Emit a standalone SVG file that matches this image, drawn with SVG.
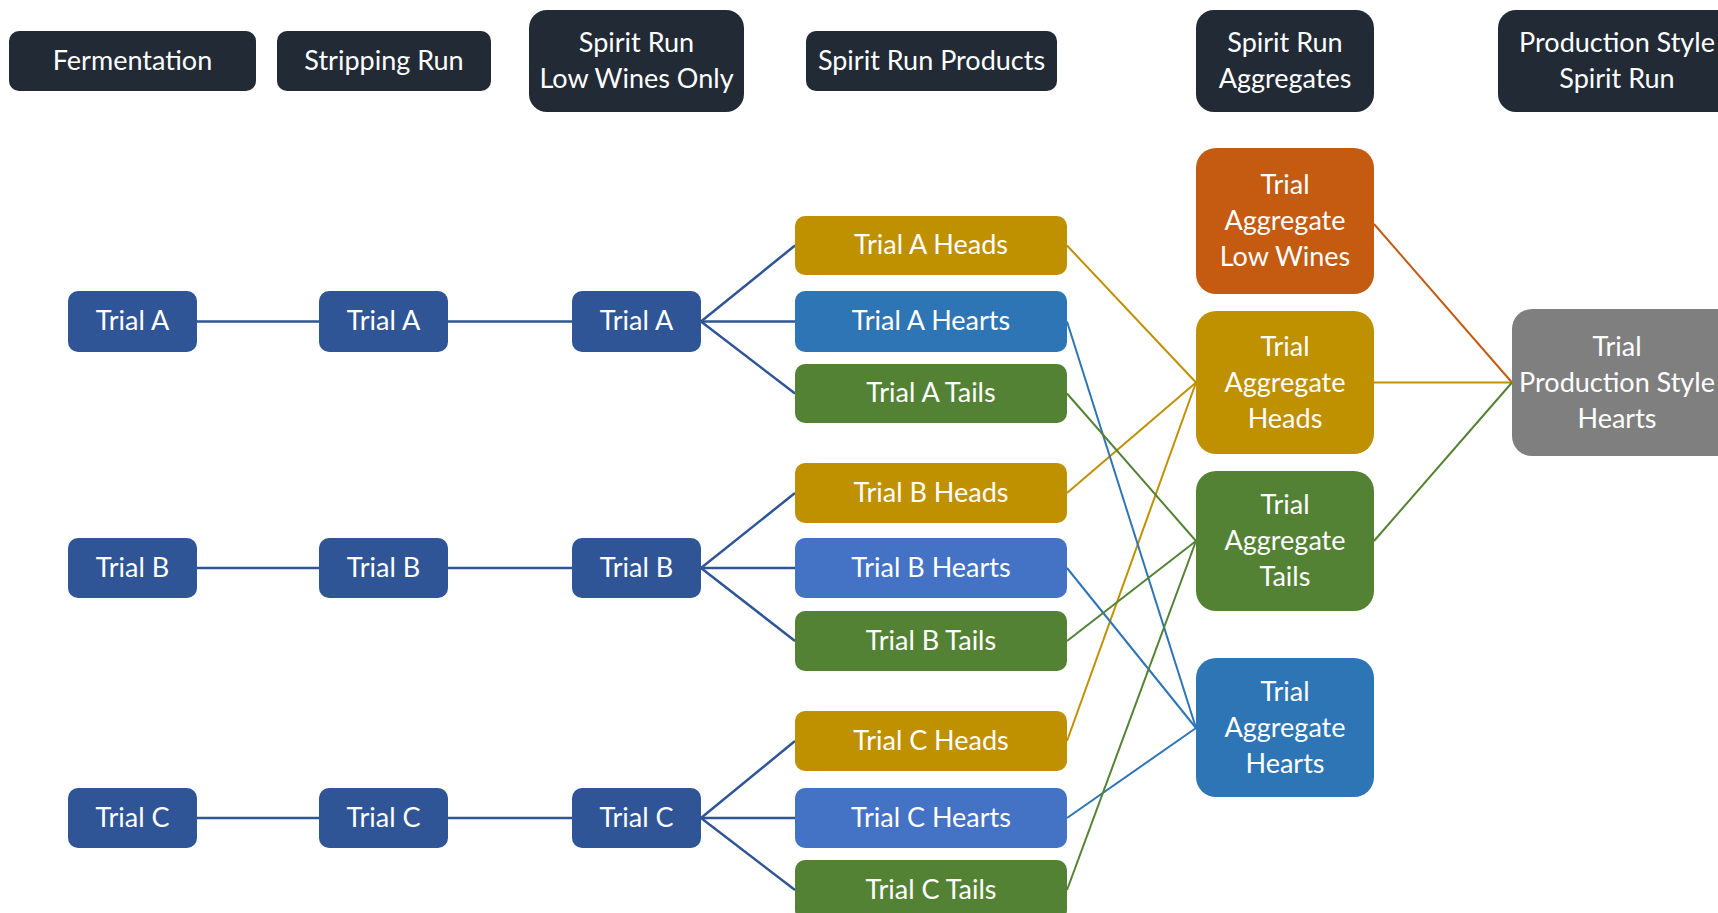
<svg xmlns="http://www.w3.org/2000/svg" width="1718" height="913" viewBox="0 0 1718 913">
<style>
text{font-family:Lato,"Open Sans","Liberation Sans",sans-serif;font-size:27px;fill:#ffffff;text-anchor:middle;dominant-baseline:central;transform:translateY(-2px)}
.hdr{fill:#222a35}
.trial{fill:#2f5597}
.heads{fill:#bf9000}
.hearts1{fill:#2e75b6}
.hearts2{fill:#4472c4}
.tails{fill:#548235}
.low{fill:#c55a11}
.gray{fill:#7f7f7f}
.c-blue{stroke:#2f5597;stroke-width:2.5;fill:none}
.c-gold{stroke:#bf9000;stroke-width:2;fill:none}
.c-hb{stroke:#2e75b6;stroke-width:2;fill:none}
.c-green{stroke:#548235;stroke-width:2;fill:none}
.c-orange{stroke:#c55a11;stroke-width:2;fill:none}
</style>
<rect width="1718" height="913" fill="#ffffff"/>
<g id="connectors">
<line class="c-blue" x1="197" y1="321.5" x2="319" y2="321.5"/>
<line class="c-blue" x1="448" y1="321.5" x2="572" y2="321.5"/>
<line class="c-blue" x1="197" y1="568" x2="319" y2="568"/>
<line class="c-blue" x1="448" y1="568" x2="572" y2="568"/>
<line class="c-blue" x1="197" y1="818" x2="319" y2="818"/>
<line class="c-blue" x1="448" y1="818" x2="572" y2="818"/>
<line class="c-blue" x1="701" y1="321.5" x2="795" y2="245.5"/>
<line class="c-blue" x1="701" y1="321.5" x2="795" y2="321.5"/>
<line class="c-blue" x1="701" y1="321.5" x2="795" y2="393.5"/>
<line class="c-blue" x1="701" y1="568" x2="795" y2="493"/>
<line class="c-blue" x1="701" y1="568" x2="795" y2="568"/>
<line class="c-blue" x1="701" y1="568" x2="795" y2="641"/>
<line class="c-blue" x1="701" y1="818" x2="795" y2="741"/>
<line class="c-blue" x1="701" y1="818" x2="795" y2="818"/>
<line class="c-blue" x1="701" y1="818" x2="795" y2="890"/>
<line class="c-gold" x1="1067" y1="245.5" x2="1196" y2="382.5"/>
<line class="c-gold" x1="1067" y1="493" x2="1196" y2="382.5"/>
<line class="c-gold" x1="1067" y1="741" x2="1196" y2="382.5"/>
<line class="c-hb" x1="1067" y1="321.5" x2="1196" y2="728"/>
<line class="c-hb" x1="1067" y1="568" x2="1196" y2="728"/>
<line class="c-hb" x1="1067" y1="818" x2="1196" y2="728"/>
<line class="c-green" x1="1067" y1="393.5" x2="1196" y2="541"/>
<line class="c-green" x1="1067" y1="641" x2="1196" y2="541"/>
<line class="c-green" x1="1067" y1="890" x2="1196" y2="541"/>
<line class="c-orange" x1="1374" y1="224" x2="1512" y2="382.5"/>
<line class="c-gold" x1="1374" y1="382.5" x2="1512" y2="382.5"/>
<line class="c-green" x1="1374" y1="541" x2="1512" y2="382.5"/>
</g>
<g id="hdr-fermentation"><rect class="hdr" x="9" y="31" width="247" height="60" rx="10"/><text x="132.5" y="61">Fermentation</text></g>
<g id="hdr-stripping"><rect class="hdr" x="277" y="31" width="214" height="60" rx="10"/><text x="384" y="61">Stripping Run</text></g>
<g id="hdr-spiritlow"><rect class="hdr" x="529" y="10" width="215" height="102" rx="18"/><text x="636.5" y="43">Spirit Run</text><text x="636.5" y="79">Low Wines Only</text></g>
<g id="hdr-products"><rect class="hdr" x="806" y="31" width="251" height="60" rx="10"/><text x="931.5" y="61">Spirit Run Products</text></g>
<g id="hdr-aggregates"><rect class="hdr" x="1196" y="10" width="178" height="102" rx="18"/><text x="1285" y="43">Spirit Run</text><text x="1285" y="79">Aggregates</text></g>
<g id="hdr-production"><rect class="hdr" x="1498" y="10" width="240" height="102" rx="18"/><text x="1617" y="43">Production Style</text><text x="1617" y="79">Spirit Run</text></g>
<g id="ferm-a"><rect class="trial" x="68" y="291" width="129" height="61" rx="10"/><text x="132.5" y="321.5">Trial A</text></g>
<g id="strip-a"><rect class="trial" x="319" y="291" width="129" height="61" rx="10"/><text x="383.5" y="321.5">Trial A</text></g>
<g id="spirit-a"><rect class="trial" x="572" y="291" width="129" height="61" rx="10"/><text x="636.5" y="321.5">Trial A</text></g>
<g id="ferm-b"><rect class="trial" x="68" y="538" width="129" height="60" rx="10"/><text x="132.5" y="568">Trial B</text></g>
<g id="strip-b"><rect class="trial" x="319" y="538" width="129" height="60" rx="10"/><text x="383.5" y="568">Trial B</text></g>
<g id="spirit-b"><rect class="trial" x="572" y="538" width="129" height="60" rx="10"/><text x="636.5" y="568">Trial B</text></g>
<g id="ferm-c"><rect class="trial" x="68" y="788" width="129" height="60" rx="10"/><text x="132.5" y="818">Trial C</text></g>
<g id="strip-c"><rect class="trial" x="319" y="788" width="129" height="60" rx="10"/><text x="383.5" y="818">Trial C</text></g>
<g id="spirit-c"><rect class="trial" x="572" y="788" width="129" height="60" rx="10"/><text x="636.5" y="818">Trial C</text></g>
<g id="a-heads"><rect class="heads" x="795" y="216" width="272" height="59" rx="10"/><text x="931" y="245.5">Trial A Heads</text></g>
<g id="a-hearts"><rect class="hearts1" x="795" y="291" width="272" height="61" rx="10"/><text x="931" y="321.5">Trial A Hearts</text></g>
<g id="a-tails"><rect class="tails" x="795" y="364" width="272" height="59" rx="10"/><text x="931" y="393.5">Trial A Tails</text></g>
<g id="b-heads"><rect class="heads" x="795" y="463" width="272" height="60" rx="10"/><text x="931" y="493">Trial B Heads</text></g>
<g id="b-hearts"><rect class="hearts2" x="795" y="538" width="272" height="60" rx="10"/><text x="931" y="568">Trial B Hearts</text></g>
<g id="b-tails"><rect class="tails" x="795" y="611" width="272" height="60" rx="10"/><text x="931" y="641">Trial B Tails</text></g>
<g id="c-heads"><rect class="heads" x="795" y="711" width="272" height="60" rx="10"/><text x="931" y="741">Trial C Heads</text></g>
<g id="c-hearts"><rect class="hearts2" x="795" y="788" width="272" height="60" rx="10"/><text x="931" y="818">Trial C Hearts</text></g>
<g id="c-tails"><rect class="tails" x="795" y="860" width="272" height="60" rx="10"/><text x="931" y="890">Trial C Tails</text></g>
<g id="agg-low"><rect class="low" x="1196" y="148" width="178" height="146" rx="20"/><text x="1285" y="185">Trial</text><text x="1285" y="221">Aggregate</text><text x="1285" y="257">Low Wines</text></g>
<g id="agg-heads"><rect class="heads" x="1196" y="311" width="178" height="143" rx="20"/><text x="1285" y="347">Trial</text><text x="1285" y="383">Aggregate</text><text x="1285" y="419">Heads</text></g>
<g id="agg-tails"><rect class="tails" x="1196" y="471" width="178" height="140" rx="20"/><text x="1285" y="505">Trial</text><text x="1285" y="541">Aggregate</text><text x="1285" y="577">Tails</text></g>
<g id="agg-hearts"><rect class="hearts1" x="1196" y="658" width="178" height="139" rx="20"/><text x="1285" y="692">Trial</text><text x="1285" y="728">Aggregate</text><text x="1285" y="764">Hearts</text></g>
<g id="prod-hearts"><rect class="gray" x="1512" y="309" width="230" height="147" rx="20"/><text x="1617" y="347">Trial</text><text x="1617" y="383">Production Style</text><text x="1617" y="419">Hearts</text></g>
</svg>
